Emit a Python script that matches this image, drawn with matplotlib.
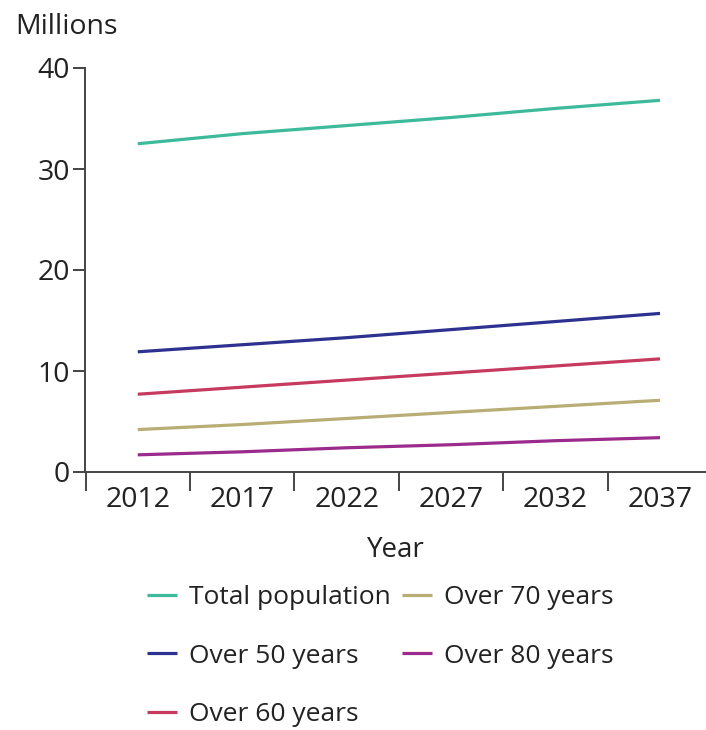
import numpy as np
import matplotlib.pyplot as plt

plt.rcParams['font.family'] = ['Open Sans', 'DejaVu Sans']

# data (millions)
years = ['2012', '2017', '2022', '2027', '2032', '2037']
total_pop = [32.5, 33.5, 34.3, 35.1, 36.0, 36.8]
over_50 = [11.9, 12.6, 13.3, 14.1, 14.9, 15.7]
over_60 = [7.7, 8.4, 9.1, 9.8, 10.5, 11.2]
over_70 = [4.2, 4.7, 5.3, 5.9, 6.5, 7.1]
over_80 = [1.7, 2.0, 2.4, 2.7, 3.1, 3.4]

series = [
    ('Total population', total_pop, '#3dba9c'),
    ('Over 50 years', over_50, '#2e3190'),
    ('Over 60 years', over_60, '#c63a5f'),
    ('Over 70 years', over_70, '#b8ad74'),
    ('Over 80 years', over_80, '#9b2a8d'),
]

W, H = 706, 730
fig = plt.figure(figsize=(W / 100, H / 100), dpi=100)
ax = fig.add_axes([85 / W, 1 - 472 / H, (W - 85) / W, (472 - 68) / H])

x = np.arange(len(years))
for name, vals, col in series:
    ax.plot(x, vals, color=col, lw=2.3, label=name, solid_capstyle='butt')

ax.set_xlim(-0.505, 5.44)
ax.set_ylim(0, 40)
ax.set_yticks([0, 10, 20, 30, 40])
ax.set_xticks(x)
ax.set_xticklabels(years)
ax.set_xticks(np.arange(-0.5, 5.0, 1.0), minor=True)

axis_col = '#444444'
for s in ['top', 'right']:
    ax.spines[s].set_visible(False)
for s in ['left', 'bottom']:
    ax.spines[s].set_color(axis_col)
    ax.spines[s].set_linewidth(1.4)

ax.tick_params(axis='y', direction='out', length=9, width=1.4, color=axis_col,
               labelsize=20.5, labelcolor='#222222', pad=2)
ax.tick_params(axis='x', which='major', length=0, labelsize=20.5,
               labelcolor='#222222', pad=10)
ax.tick_params(axis='x', which='minor', direction='out', length=14, width=1.4,
               color=axis_col)

ax.set_xlabel('Year', fontsize=20, color='#222222', labelpad=16)
fig.text(15 / W, 1 - 27 / H, 'Millions', fontsize=20.5, color='#222222',
         va='center', ha='left')

fig.legend(loc='upper left', bbox_to_anchor=(147 / W, 1 - 585 / H), ncol=2,
           frameon=False, fontsize=19, handlelength=1.15, handletextpad=0.45,
           columnspacing=0.4, labelspacing=1.27, borderpad=0, borderaxespad=0,
           labelcolor='#222222')

fig.savefig('out.png', dpi=100)
